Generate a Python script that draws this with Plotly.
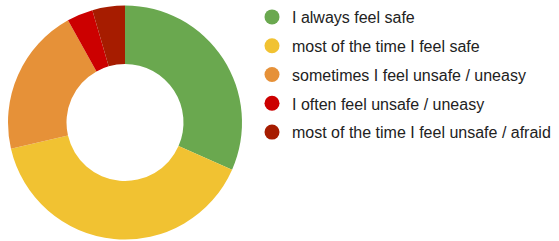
import plotly.graph_objects as go

labels = [
    "I always feel safe",
    "most of the time I feel safe",
    "sometimes I feel unsafe / uneasy",
    "I often feel unsafe / uneasy",
    "most of the time I feel unsafe / afraid",
]
values = [31.6, 39.8, 20.5, 3.6, 4.5]
colors = ["#6aa84f", "#f1c232", "#e69138", "#cc0000", "#a61c00"]

W, H = 559, 241

fig = go.Figure()
fig.add_trace(go.Pie(
    labels=labels,
    values=values,
    marker=dict(colors=colors, line=dict(width=0)),
    hole=0.5,
    sort=False,
    direction="clockwise",
    rotation=0,
    textinfo="none",
    showlegend=False,
    domain=dict(x=[8 / W, 242 / W], y=[1 / H, 236 / H]),
))

for i, (lab, col) in enumerate(zip(labels, colors)):
    fig.add_trace(go.Scatter(
        x=[None], y=[None], mode="markers", name=lab,
        legendgroup=f"g{i}",
        marker=dict(color=col, size=15, symbol="circle"),
    ))

fig.update_layout(
    width=W, height=H,
    margin=dict(l=0, r=0, t=0, b=0),
    paper_bgcolor="white", plot_bgcolor="white",
    font=dict(family="Liberation Sans, Arial, sans-serif", size=16, color="#222222"),
    xaxis=dict(visible=False), yaxis=dict(visible=False),
    legend=dict(
        x=252 / W, xanchor="left", y=1, yanchor="top",
        tracegroupgap=5, itemsizing="trace",
        font=dict(size=16, color="#222222"),
        bgcolor="rgba(0,0,0,0)",
    ),
    showlegend=True,
)

fig.write_html(
    "out.html",
    config={"displayModeBar": False},
    post_script="document.body.style.margin='0';",
)
